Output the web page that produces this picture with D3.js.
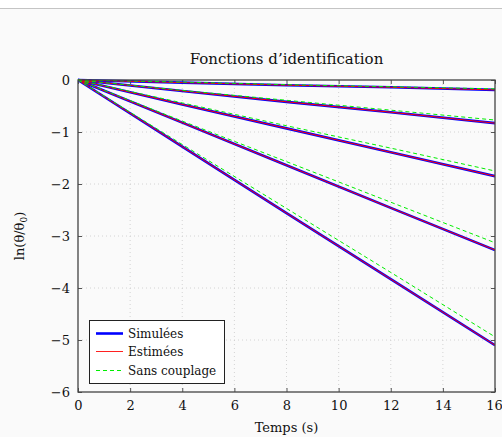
<!DOCTYPE html>
<html><head><meta charset="utf-8">
<script src="https://cdn.jsdelivr.net/npm/d3@7/dist/d3.min.js"></script>
<style>
html,body{margin:0;padding:0;background:#fff;}
svg{display:block;}
text{font-family:"DejaVu Serif",serif;fill:#111;}
</style></head><body>
<script>
// ---- data ----
const times = [0, 4, 8, 12, 16];
const simulees = [
  [0, -0.05, -0.10, -0.14, -0.19],
  [0, -0.21, -0.42, -0.62, -0.83],
  [0, -0.47, -0.93, -1.39, -1.85],
  [0, -0.82, -1.64, -2.46, -3.27],
  [0, -1.28, -2.56, -3.83, -5.10]
];
const estimees = [
  [0, -0.05, -0.10, -0.14, -0.19],
  [0, -0.21, -0.42, -0.62, -0.83],
  [0, -0.47, -0.93, -1.39, -1.85],
  [0, -0.82, -1.64, -2.46, -3.27],
  [0, -1.28, -2.56, -3.83, -5.10]
];
const sansCouplage = [
  [0, -0.04, -0.09, -0.13, -0.17],
  [0, -0.20, -0.39, -0.58, -0.77],
  [0, -0.44, -0.88, -1.31, -1.75],
  [0, -0.79, -1.57, -2.35, -3.13],
  [0, -1.24, -2.47, -3.70, -4.94]
];
const xTicks = [0, 2, 4, 6, 8, 10, 12, 14, 16];
const yTicks = [0, -1, -2, -3, -4, -5, -6];
const legendLabels = ["Simulées", "Estimées", "Sans couplage"];
const title = "Fonctions d’identification";
const xLabel = "Temps (s)";

// ---- layout ----
const W = 502, H = 437;
const L = 78, R = 495, T = 80, B = 392;
const svg = d3.select("body").append("svg").attr("width", W).attr("height", H);
svg.append("rect").attr("x",0).attr("y",8).attr("width",W).attr("height",H-8).attr("fill","#fafafa");
svg.append("line").attr("x1",0).attr("x2",W).attr("y1",8.5).attr("y2",8.5).attr("stroke","#c4c4c4").attr("stroke-width",1.2);

const x = d3.scaleLinear().domain([0,16]).range([L,R]);
const y = d3.scaleLinear().domain([-6,0]).range([B,T]);

// grid
const g = svg.append("g");
g.selectAll(".gx").data(xTicks.slice(1,-1)).join("line")
  .attr("x1",d=>x(d)).attr("x2",d=>x(d)).attr("y1",T).attr("y2",B)
  .attr("stroke","#cfcfcf").attr("stroke-width",0.9).attr("stroke-dasharray","1,3");
g.selectAll(".gy").data(yTicks.slice(1,-1)).join("line")
  .attr("y1",d=>y(d)).attr("y2",d=>y(d)).attr("x1",L).attr("x2",R)
  .attr("stroke","#cfcfcf").attr("stroke-width",0.9).attr("stroke-dasharray","1,3");

// axes (ticks inside, mirrored)
const tickCol = "#555";
const axB = svg.append("g").attr("transform",`translate(0,${B})`)
  .call(d3.axisBottom(x).tickValues(xTicks).tickSize(-4).tickPadding(9).tickFormat(d3.format("d")));
const axT = svg.append("g").attr("transform",`translate(0,${T})`)
  .call(d3.axisTop(x).tickValues(xTicks).tickSize(-4).tickFormat(""));
const fmtY = d => d < 0 ? "\u2212" + Math.abs(d) : String(d);
const axL = svg.append("g").attr("transform",`translate(${L},0)`)
  .call(d3.axisLeft(y).tickValues(yTicks).tickSize(-4).tickPadding(8).tickFormat(fmtY));
const axR = svg.append("g").attr("transform",`translate(${R},0)`)
  .call(d3.axisRight(y).tickValues(yTicks).tickSize(-4).tickFormat(""));
[axB,axT,axL,axR].forEach(a=>{
  a.attr("font-family",null);
  a.select(".domain").remove();
  a.selectAll(".tick line").attr("stroke",tickCol).attr("stroke-width",1);
  a.selectAll("text").style("font-family","'DejaVu Serif', serif").attr("font-size",13).attr("fill","#111");
});
axB.selectAll(".tick").filter(d=>d===16).select("text").attr("dx",-1);

// lines
const line = d3.line().x((d,i)=>x(times[i])).y(d=>y(d));
svg.append("clipPath").attr("id","c").append("rect").attr("x",L).attr("y",T-2).attr("width",R-L).attr("height",B-T+2);
const lg = svg.append("g").attr("clip-path","url(#c)");
simulees.forEach(s=>lg.append("path").attr("d",line(s)).attr("fill","none").attr("stroke","#0000ff").attr("stroke-width",2.6));
estimees.forEach(s=>lg.append("path").attr("d",line(s)).attr("fill","none").attr("stroke","#ff0000").attr("stroke-width",1));
sansCouplage.forEach(s=>lg.append("path").attr("d",line(s)).attr("fill","none").attr("stroke","#00ee00").attr("stroke-width",1).attr("stroke-dasharray","4,3"));

// frame
svg.append("rect").attr("x",L).attr("y",T).attr("width",R-L).attr("height",B-T)
  .attr("fill","none").attr("stroke","#444").attr("stroke-width",1.3);

// title & labels
svg.append("text").attr("x",(L+R)/2).attr("y",64).attr("text-anchor","middle").attr("font-size",15).text(title);
svg.append("text").attr("x",(L+R)/2).attr("y",432).attr("text-anchor","middle").attr("font-size",13).text(xLabel);
const yl = svg.append("text").attr("transform",`translate(24,${(T+B)/2}) rotate(-90)`).attr("text-anchor","middle").attr("font-size",13);
yl.append("tspan").text("ln(θ/θ");
yl.append("tspan").attr("font-size",9).attr("dy",3).text("0");
yl.append("tspan").attr("dy",-3).text(")");

// legend
const leg = svg.append("g");
leg.append("rect").attr("x",89.5).attr("y",320.5).attr("width",135).attr("height",63).attr("fill","#fff").attr("stroke","#222").attr("stroke-width",1);
const styles = [
  {c:"#0000ff", w:2.6, d:"none"},
  {c:"#ff2020", w:1, d:"none"},
  {c:"#00ee00", w:1, d:"4,3"}
];
legendLabels.forEach((t,i)=>{
  const yy = 333 + i*18.5;
  leg.append("line").attr("x1",96).attr("x2",123).attr("y1",Math.floor(yy)+0.5).attr("y2",Math.floor(yy)+0.5)
    .attr("stroke",styles[i].c).attr("stroke-width",styles[i].w).attr("stroke-dasharray",styles[i].d);
  leg.append("text").attr("x",128).attr("y",yy+4.5).attr("font-size",12).text(t);
});
</script>
</body></html>
